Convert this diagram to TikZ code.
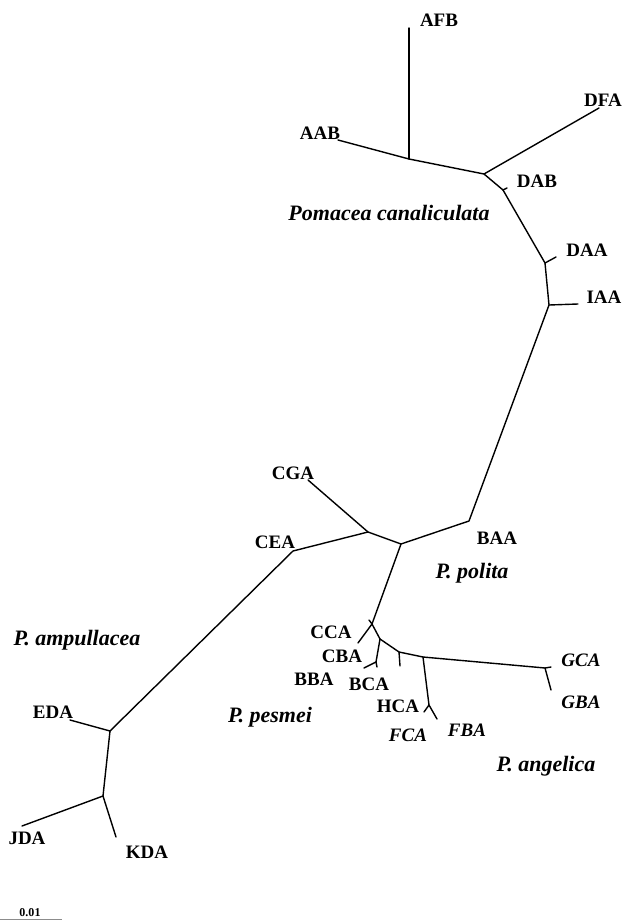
\documentclass[tikz,border=0pt]{standalone}
\usepackage{fontspec}
\setmainfont{Liberation Serif}
\begin{document}
\begin{tikzpicture}[x=1pt,y=-1pt,
  br/.style={line width=1.4pt,line cap=round,line join=round},
  lab/.style={font=\fontsize{19}{21}\selectfont\bfseries,inner sep=0pt},
  ilab/.style={font=\fontsize{19}{21}\selectfont\bfseries\itshape,inner sep=0pt},
  sp/.style={font=\fontsize{22}{24}\selectfont\bfseries\itshape,inner sep=0pt}]
\useasboundingbox (0,0) rectangle (626,920);
% internal nodes and tips
\coordinate (tAFB) at (409,28);
\coordinate (n1) at (409,159);
\coordinate (tAAB) at (338,140);
\coordinate (n2) at (484,174);
\coordinate (tDFA) at (599,108);
\coordinate (dab) at (503,190);
\coordinate (tDAB) at (507,188);
\coordinate (daa) at (545,263);
\coordinate (tDAA) at (556,257);
\coordinate (iaa) at (549,305);
\coordinate (tIAA) at (578,304);
\coordinate (baa) at (469,521);
\coordinate (n3) at (401,544);
\coordinate (n4) at (368,532);
\coordinate (tCGA) at (308,480);
\coordinate (cea) at (293,551);
\coordinate (eda) at (110,731);
\coordinate (tEDA) at (70,720);
\coordinate (jk) at (103,796);
\coordinate (tJDA) at (22,826);
\coordinate (tKDA) at (116,837);
\coordinate (c1) at (372,624);
\coordinate (t1) at (369,620);
\coordinate (tCCA) at (358,643);
\coordinate (c2) at (380,639);
\coordinate (c3) at (376,662);
\coordinate (tCBA) at (364,668);
\coordinate (tBBA) at (377,667);
\coordinate (c4) at (399,652);
\coordinate (tBCA) at (400,666);
\coordinate (c5) at (423,657);
\coordinate (c6) at (429,705);
\coordinate (tFCA) at (424,712);
\coordinate (tFBA) at (437,719);
\coordinate (gn) at (545,668);
\coordinate (tGCA) at (551,667);
\coordinate (tGBA) at (551,690);
% branches
\draw[br] (tAFB) -- (n1);
\draw[br] (tAAB) -- (n1) -- (n2) -- (tDFA);
\draw[br] (n2) -- (dab) -- (daa) -- (iaa) -- (baa) -- (n3) -- (n4) -- (tCGA);
\draw[br] (dab) -- (tDAB);
\draw[br] (daa) -- (tDAA);
\draw[br] (iaa) -- (tIAA);
\draw[br] (n4) -- (cea) -- (eda) -- (jk) -- (tJDA);
\draw[br] (eda) -- (tEDA);
\draw[br] (jk) -- (tKDA);
\draw[br] (n3) -- (c1) -- (tCCA);
\draw[br] (c1) -- (t1);
\draw[br] (c1) -- (c2) -- (c3) -- (tCBA);
\draw[br] (c3) -- (tBBA);
\draw[br] (c2) -- (c4) -- (c5) -- (gn) -- (tGCA);
\draw[br] (gn) -- (tGBA);
\draw[br] (c4) -- (tBCA);
\draw[br] (c5) -- (c6) -- (tFCA);
\draw[br] (c6) -- (tFBA);
% labels
\node[lab] (lAFB) at (439,20) {AFB};
\node[lab] (lDFA) at (603,100) {DFA};
\node[lab] (lAAB) at (320,133) {AAB};
\node[lab] (lDAB) at (537,181) {DAB};
\node[lab] (lDAA) at (587,250) {DAA};
\node[lab] (lIAA) at (604,297) {IAA};
\node[lab] (lCGA) at (293,473) {CGA};
\node[lab] (lCEA) at (275,542) {CEA};
\node[lab] (lBAA) at (497,538) {BAA};
\node[lab] (lCCA) at (331,632) {CCA};
\node[lab] (lCBA) at (342,656) {CBA};
\node[lab] (lBBA) at (314,679) {BBA};
\node[lab] (lBCA) at (369,684) {BCA};
\node[lab] (lHCA) at (398,706) {HCA};
\node[ilab] (lFCA) at (408,735) {FCA};
\node[ilab] (lFBA) at (467,730) {FBA};
\node[ilab] (lGCA) at (581,660) {GCA};
\node[ilab] (lGBA) at (581,702) {GBA};
\node[lab] (lEDA) at (53,712) {EDA};
\node[lab] (lJDA) at (27,838) {JDA};
\node[lab] (lKDA) at (147,852) {KDA};
\node[sp] (sPc) at (389,213) {Pomacea canaliculata};
\node[sp] (sPp) at (472,573) {P. polita};
\node[sp] (sPa) at (77,640) {P. ampullacea};
\node[sp] (sPm) at (270,717) {P. pesmei};
\node[sp] (sPg) at (546,766) {P. angelica};
% scale bar
\coordinate (sb0) at (0,919);
\coordinate (sb1) at (62,919);
\draw[line width=0.8pt,black!45] (sb0) -- (sb1);
\node[font=\fontsize{12}{13}\selectfont\bfseries,inner sep=0pt] (lsc) at (30,913) {0.01};
\end{tikzpicture}
\end{document}
